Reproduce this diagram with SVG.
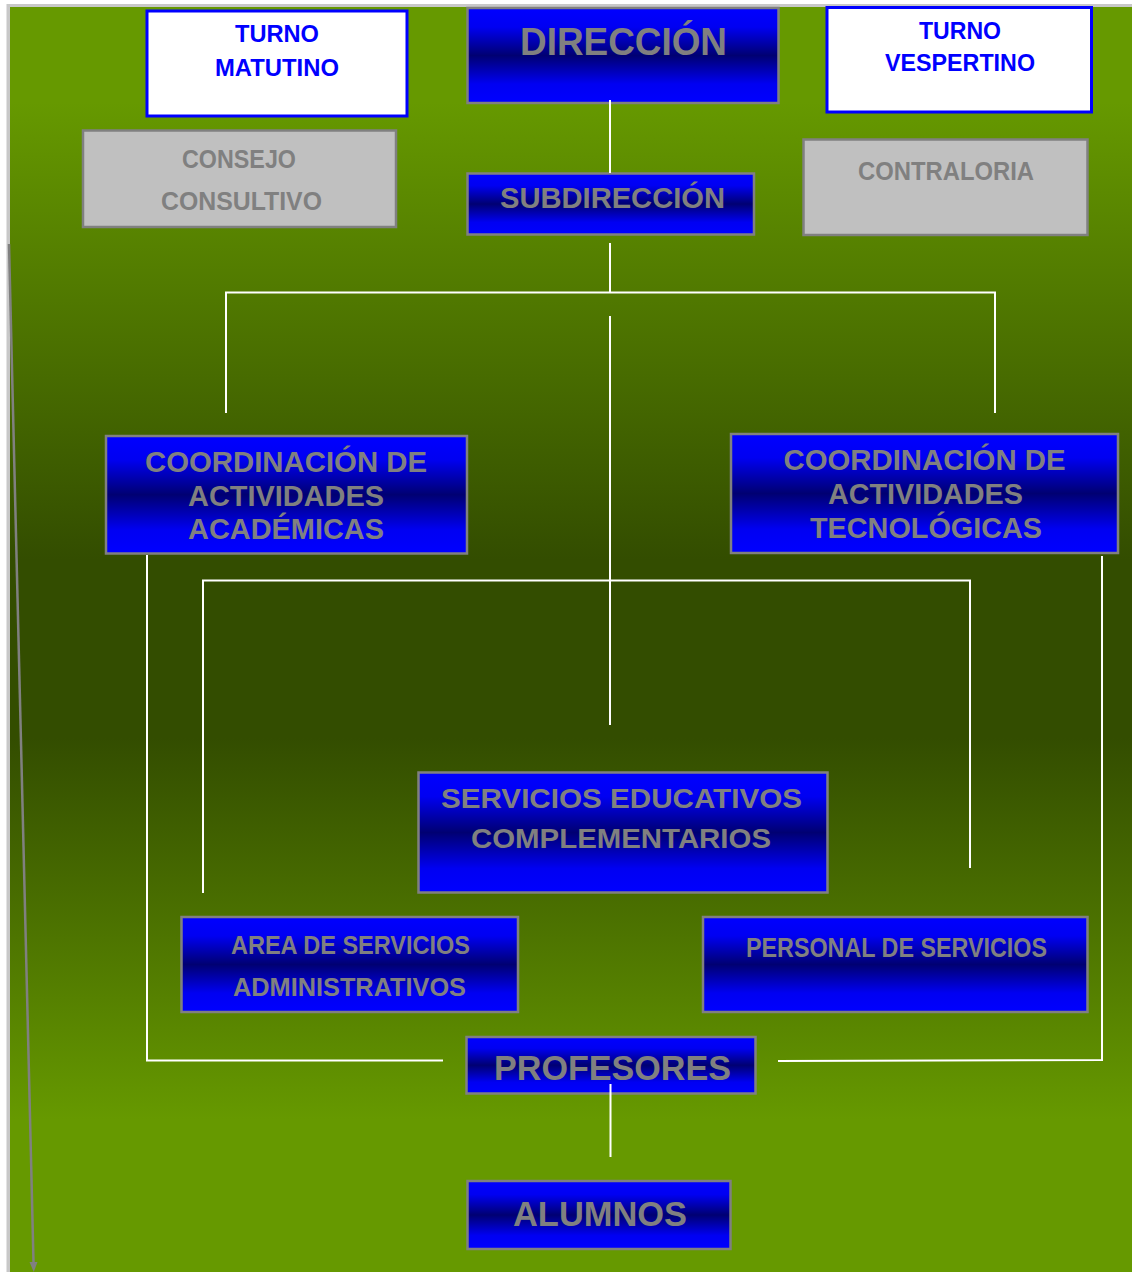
<svg xmlns="http://www.w3.org/2000/svg" width="1132" height="1272" viewBox="0 0 1132 1272">
  <defs>
    <linearGradient id="bg" gradientUnits="userSpaceOnUse" x1="0" y1="0" x2="0" y2="1272">
      <stop offset="0" stop-color="#669900"/>
      <stop offset="0.08" stop-color="#669900"/>
      <stop offset="0.44" stop-color="#334d00"/>
      <stop offset="0.58" stop-color="#334d00"/>
      <stop offset="0.88" stop-color="#669900"/>
      <stop offset="1" stop-color="#669900"/>
    </linearGradient>
    <linearGradient id="blue" x1="0" y1="0" x2="0" y2="1">
      <stop offset="0" stop-color="#0000ff"/>
      <stop offset="0.2" stop-color="#0000f2"/>
      <stop offset="0.5" stop-color="#000072"/>
      <stop offset="0.8" stop-color="#0000f2"/>
      <stop offset="1" stop-color="#0000ff"/>
    </linearGradient>
    <marker id="arrow" markerUnits="userSpaceOnUse" markerWidth="10" markerHeight="10" viewBox="0 0 10 10" refX="0" refY="5" orient="auto">
      <path d="M0,1 L10,5 L0,9 z" fill="#808080"/>
    </marker>
    <style>
      .bx { fill: url(#blue); stroke: #808080; stroke-width: 2.5; }
      .wh { fill: #ffffff; stroke: #0000ff; stroke-width: 3; }
      .gr { fill: #c0c0c0; stroke: #808080; stroke-width: 2.5; }
      .t { font-family: "Liberation Sans", Arial, sans-serif; font-weight: bold; fill: #808080; text-anchor: middle; }
      .tb { font-family: "Liberation Sans", Arial, sans-serif; font-weight: bold; fill: #0000ff; text-anchor: middle; }
      .cn { stroke: #ffffff; stroke-width: 2; fill: none; }
    </style>
  </defs>

  <rect x="0" y="0" width="1132" height="1272" fill="#ffffff"/>
  <rect x="6.5" y="4" width="1125.5" height="1268" fill="#c8c8c8"/>
  <rect x="10" y="7" width="1122" height="1265" fill="url(#bg)"/>

  <g id="turno-matutino">
    <rect class="wh" x="147" y="11" width="260" height="105"/>
    <text class="tb" x="277" y="42" font-size="23" textLength="84" lengthAdjust="spacingAndGlyphs">TURNO</text>
    <text class="tb" x="277" y="76" font-size="23" textLength="124" lengthAdjust="spacingAndGlyphs">MATUTINO</text>
  </g>

  <g id="direccion">
    <rect class="bx" x="467.5" y="8" width="311" height="95"/>
    <text class="t" x="623.5" y="55" font-size="39" textLength="207" lengthAdjust="spacingAndGlyphs">DIRECCIÓN</text>
  </g>

  <g id="turno-vespertino">
    <rect class="wh" x="827" y="7.5" width="264.5" height="104.5"/>
    <text class="tb" x="960" y="39" font-size="23" textLength="82" lengthAdjust="spacingAndGlyphs">TURNO</text>
    <text class="tb" x="960" y="71" font-size="23" textLength="150" lengthAdjust="spacingAndGlyphs">VESPERTINO</text>
  </g>

  <g id="consejo-consultivo">
    <rect class="gr" x="83" y="130.5" width="313" height="96.5"/>
    <text class="t" x="239" y="168" font-size="26" textLength="114" lengthAdjust="spacingAndGlyphs">CONSEJO</text>
    <text class="t" x="241.5" y="210" font-size="26" textLength="161" lengthAdjust="spacingAndGlyphs">CONSULTIVO</text>
  </g>

  <g id="contraloria">
    <rect class="gr" x="803.5" y="139.5" width="284" height="95.5"/>
    <text class="t" x="946" y="180" font-size="25" textLength="176" lengthAdjust="spacingAndGlyphs">CONTRALORIA</text>
  </g>

  <g id="subdireccion">
    <rect class="bx" x="467.5" y="173.5" width="286.5" height="61"/>
    <text class="t" x="612.5" y="208" font-size="29" textLength="225" lengthAdjust="spacingAndGlyphs">SUBDIRECCIÓN</text>
  </g>

  <g id="coord-academicas">
    <rect class="bx" x="106" y="436" width="361" height="117.5"/>
    <text class="t" x="286" y="472" font-size="29" textLength="282" lengthAdjust="spacingAndGlyphs">COORDINACIÓN DE</text>
    <text class="t" x="286" y="506" font-size="29" textLength="196" lengthAdjust="spacingAndGlyphs">ACTIVIDADES</text>
    <text class="t" x="286" y="539" font-size="29" textLength="196" lengthAdjust="spacingAndGlyphs">ACADÉMICAS</text>
  </g>

  <g id="coord-tecnologicas">
    <rect class="bx" x="731" y="434" width="387" height="119"/>
    <text class="t" x="924.5" y="470" font-size="29" textLength="282" lengthAdjust="spacingAndGlyphs">COORDINACIÓN DE</text>
    <text class="t" x="925.5" y="504" font-size="29" textLength="195" lengthAdjust="spacingAndGlyphs">ACTIVIDADES</text>
    <text class="t" x="926" y="538" font-size="29" textLength="232" lengthAdjust="spacingAndGlyphs">TECNOLÓGICAS</text>
  </g>

  <g id="servicios-educativos">
    <rect class="bx" x="418.5" y="772.5" width="409" height="120"/>
    <text class="t" x="621.5" y="808" font-size="28" textLength="361" lengthAdjust="spacingAndGlyphs">SERVICIOS EDUCATIVOS</text>
    <text class="t" x="621" y="848" font-size="28" textLength="300" lengthAdjust="spacingAndGlyphs">COMPLEMENTARIOS</text>
  </g>

  <g id="area-servicios-administrativos">
    <rect class="bx" x="181.5" y="917" width="336.5" height="95"/>
    <text class="t" x="350.5" y="954" font-size="26" textLength="239" lengthAdjust="spacingAndGlyphs">AREA DE SERVICIOS</text>
    <text class="t" x="349.5" y="996" font-size="26" textLength="233" lengthAdjust="spacingAndGlyphs">ADMINISTRATIVOS</text>
  </g>

  <g id="personal-servicios">
    <rect class="bx" x="703" y="917" width="384.5" height="95"/>
    <text class="t" x="896.5" y="957" font-size="27" textLength="301" lengthAdjust="spacingAndGlyphs">PERSONAL DE SERVICIOS</text>
  </g>

  <g id="profesores">
    <rect class="bx" x="466.5" y="1037" width="289" height="56.5"/>
    <text class="t" x="612.5" y="1080" font-size="35" textLength="237" lengthAdjust="spacingAndGlyphs">PROFESORES</text>
  </g>

  <g id="alumnos">
    <rect class="bx" x="467.5" y="1181" width="263" height="68"/>
    <text class="t" x="600" y="1226" font-size="35" textLength="174" lengthAdjust="spacingAndGlyphs">ALUMNOS</text>
  </g>

  <g id="connectors">
    <line class="cn" x1="610" y1="100" x2="610" y2="173"/>
    <line class="cn" x1="610" y1="243" x2="610" y2="292"/>
    <polyline class="cn" points="226,413 226,292.5 995,292.5 995,413"/>
    <line class="cn" x1="610" y1="316" x2="610" y2="725"/>
    <polyline class="cn" points="203,893 203,580.5 970,580.5 970,868"/>
    <polyline class="cn" points="147,555 147,1060.5 443,1060.5"/>
    <polyline class="cn" points="1102,556 1102,1060 778,1061"/>
    <line class="cn" x1="610.5" y1="1084" x2="610.5" y2="1157"/>
    <line x1="9" y1="244" x2="33.5" y2="1262" stroke="#808080" stroke-width="2.5" marker-end="url(#arrow)"/>
  </g>
</svg>
